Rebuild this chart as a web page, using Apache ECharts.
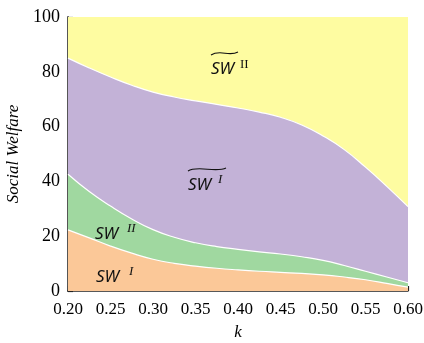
<!DOCTYPE html>
<html><head><meta charset="utf-8">
<script src="https://cdn.jsdelivr.net/npm/echarts@6/dist/echarts.min.js"></script>
<style>html,body{margin:0;padding:0;background:#fff}#c{width:424px;height:343px}</style>
</head><body><div id="c"></div>
<script>
var kVals = [0.20,0.225,0.25,0.275,0.30,0.325,0.35,0.375,0.40,0.425,0.45,0.475,0.50,0.525,0.55,0.575,0.60];
var swITop = [22.3,19.4,16.4,13.8,11.6,10.1,9.1,8.3,7.7,7.2,6.8,6.4,5.9,5.1,4.1,2.8,1.4];
var swIITop = [42.6,36.3,31.0,26.3,22.4,19.6,17.6,16.2,15.2,14.3,13.5,12.5,11.2,9.3,7.2,5.1,3.0];
var swTildeITop = [85.0,81.4,78.1,75.1,72.6,70.8,69.4,68.1,66.8,65.3,63.4,60.6,56.6,51.6,45.2,38.2,30.8];
var swTildeIITop = [100,100,100,100,100,100,100,100,100,100,100,100,100,100,100,100,100];

function pairs(arr){ return kVals.map(function(k,i){ return [k, arr[i]]; }); }

function mk(name, arr, color, lw){
  return {name:name, type:'line', data:pairs(arr), smooth:0.5, symbol:'none',
    lineStyle:{color:'#ffffff', width:lw}, areaStyle:{color:color, opacity:1, origin:'start'}};
}
var chart = echarts.init(document.getElementById('c'), null, {renderer:'canvas'});
var serif = '"Liberation Serif","Times New Roman",serif';
var sans = '"Noto Sans","Open Sans",sans-serif';
chart.setOption({
  animation:false,
  grid:{left:68,right:16,top:17,bottom:52,containLabel:false,outerBoundsMode:'none'},
  xAxis:{type:'value',min:0.2,max:0.6,interval:0.05,
    name:'k',nameLocation:'middle',nameGap:33,
    nameTextStyle:{fontFamily:serif,fontStyle:'italic',fontSize:17,color:'#000'},
    axisLine:{show:true,onZero:false,lineStyle:{color:'#222',width:1.5}},
    axisTick:{show:true,inside:true,length:5,lineStyle:{color:'#222',width:1.2}},
    minorTick:{show:true,splitNumber:2,length:3,lineStyle:{color:'#222',width:1}},
    splitLine:{show:false},
    axisLabel:{fontFamily:serif,fontSize:17,color:'#000',margin:10,
      formatter:function(v){return v.toFixed(2);}}
  },
  yAxis:{type:'value',min:0,max:100,interval:20,
    name:'Social Welfare',nameLocation:'middle',nameGap:46,nameRotate:90,
    nameTextStyle:{fontFamily:serif,fontStyle:'italic',fontSize:17,color:'#000'},
    axisLine:{show:true,onZero:false,lineStyle:{color:'#555',width:2}},
    axisTick:{show:true,inside:true,length:5,lineStyle:{color:'#222',width:1.2}},
    minorTick:{show:true,splitNumber:2,length:3,lineStyle:{color:'#222',width:1}},
    splitLine:{show:false},
    axisLabel:{fontFamily:serif,fontSize:18,color:'#000',margin:8}
  },
  series:[
    mk('SW~II', swTildeIITop, '#FEFCA1', 0),
    mk('SW~I', swTildeITop, '#C3B2D7', 1.2),
    mk('SW II', swIITop, '#A0D8A0', 1.2),
    mk('SW I', swITop, '#FBC898', 1.2)
  ],
  graphic:[
    {type:'text',x:211,y:69,z:10,style:{text:'SW',font:'italic 17px '+sans,fill:'#111',textVerticalAlign:'middle',verticalAlign:'middle'}},
    {type:'text',x:240,y:65,z:10,style:{text:'II',font:'13px '+serif,fill:'#111',textVerticalAlign:'middle',verticalAlign:'middle'}},
    {type:'bezierCurve',z:10,shape:{x1:211,y1:55,cpx1:220,cpy1:49,cpx2:229,cpy2:57,x2:238,y2:52},style:{stroke:'#111',lineWidth:1.1,fill:null}},
    {type:'text',x:188,y:185,z:10,style:{text:'SW',font:'italic 17px '+sans,fill:'#111',textVerticalAlign:'middle',verticalAlign:'middle'}},
    {type:'text',x:218,y:180,z:10,style:{text:'I',font:'italic 13px '+serif,fill:'#111',textVerticalAlign:'middle',verticalAlign:'middle'}},
    {type:'bezierCurve',z:10,shape:{x1:188,y1:171,cpx1:197,cpy1:165,cpx2:216,cpy2:173,x2:226,y2:168},style:{stroke:'#111',lineWidth:1.1,fill:null}},
    {type:'text',x:95,y:234,z:10,style:{text:'SW',font:'italic 17px '+sans,fill:'#111',textVerticalAlign:'middle',verticalAlign:'middle'}},
    {type:'text',x:127,y:229,z:10,style:{text:'II',font:'italic 13px '+serif,fill:'#111',textVerticalAlign:'middle',verticalAlign:'middle'}},
    {type:'text',x:96,y:277,z:10,style:{text:'SW',font:'italic 17px '+sans,fill:'#111',textVerticalAlign:'middle',verticalAlign:'middle'}},
    {type:'text',x:129,y:272,z:10,style:{text:'I',font:'italic 13px '+serif,fill:'#111',textVerticalAlign:'middle',verticalAlign:'middle'}}
  ]
});
</script></body></html>
